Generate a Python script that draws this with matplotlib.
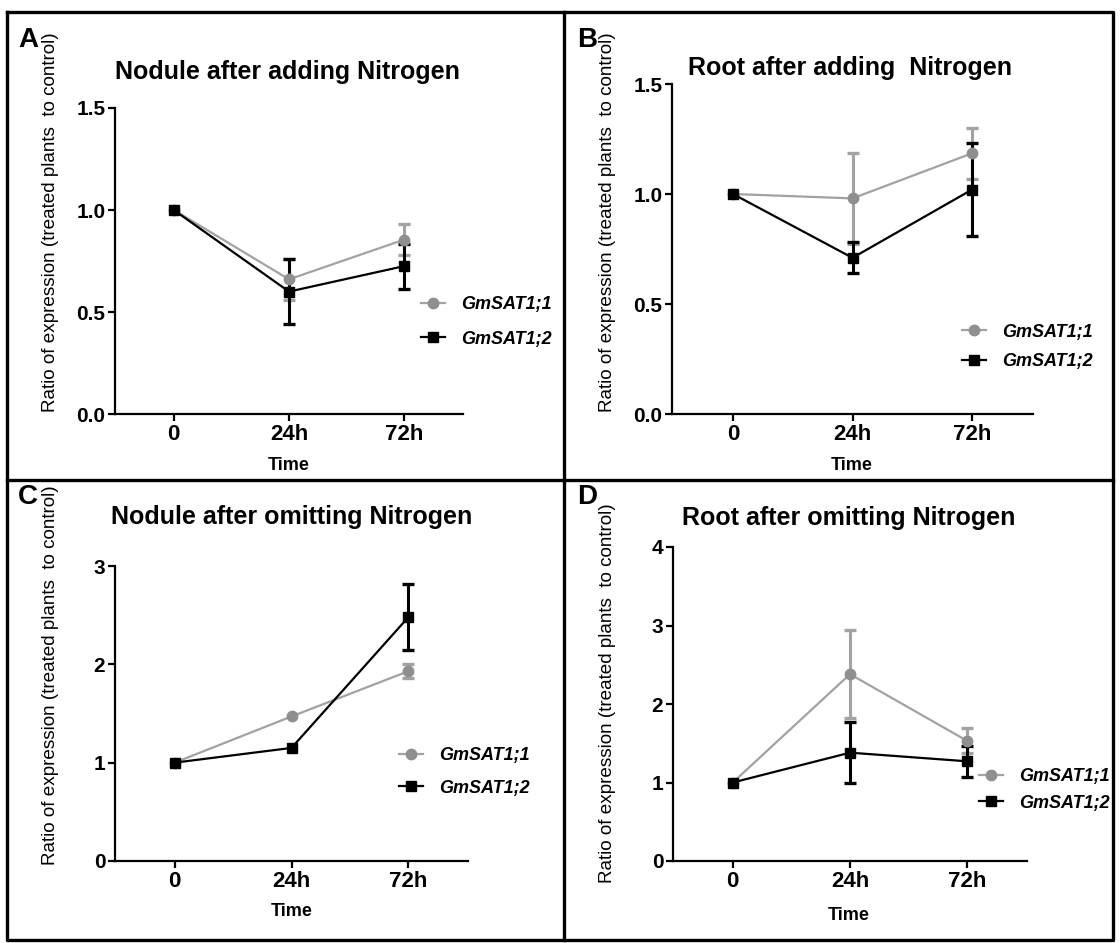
import numpy as np
import matplotlib

matplotlib.use("Agg")
import matplotlib.pyplot as plt
from matplotlib import font_manager
from matplotlib.lines import Line2D

W, H = 1120, 943

# ---- data ----
time_labels = ["0", "24h", "72h"]
series_names = ["GmSAT1;1", "GmSAT1;2"]

a_sat11 = [1.0, 0.66, 0.855]
a_sat11_err = [0.0, 0.10, 0.075]
a_sat12 = [1.0, 0.60, 0.725]
a_sat12_err = [0.0, 0.16, 0.11]

b_sat11 = [1.0, 0.98, 1.185]
b_sat11_err = [0.0, 0.205, 0.115]
b_sat12 = [1.0, 0.71, 1.02]
b_sat12_err = [0.0, 0.07, 0.21]

c_sat11 = [1.0, 1.47, 1.93]
c_sat11_err = [0.0, 0.0, 0.07]
c_sat12 = [1.0, 1.15, 2.48]
c_sat12_err = [0.0, 0.0, 0.335]

d_sat11 = [1.0, 2.38, 1.53]
d_sat11_err = [0.0, 0.56, 0.16]
d_sat12 = [1.0, 1.38, 1.27]
d_sat12_err = [0.0, 0.39, 0.20]

GREY_LINE = "#a2a2a2"
GREY_MARK = "#8f8f8f"
BLACK = "#000000"

names = {f.name for f in font_manager.fontManager.ttflist}
NARROW = "Liberation Sans Narrow" if "Liberation Sans Narrow" in names else "Liberation Sans"
SANS = "Liberation Sans"
plt.rcParams["font.family"] = [SANS, "DejaVu Sans"]

PANELS = [
    dict(letter="A", title="Nodule after adding Nitrogen",
         data=(a_sat11, a_sat11_err, a_sat12, a_sat12_err),
         ylim=1.5, yticks=[0.0, 0.5, 1.0, 1.5], yfmt="{:.1f}",
         rect=(115, 108, 463, 414), yfont=SANS,
         title_xy=(287, 72), letter_xy=(18, 40), ylabel_xy=(51, 222), xlabel_xy=(289, 466),
         legend=(421, 322, 0.95)),
    dict(letter="B", title="Root after adding  Nitrogen",
         data=(b_sat11, b_sat11_err, b_sat12, b_sat12_err),
         ylim=1.5, yticks=[0.0, 0.5, 1.0, 1.5], yfmt="{:.1f}",
         rect=(672, 84, 1033, 414), yfont=SANS,
         title_xy=(850, 68), letter_xy=(577, 40), ylabel_xy=(608, 222), xlabel_xy=(852, 466),
         legend=(962, 347, 0.7)),
    dict(letter="C", title="Nodule after omitting Nitrogen",
         data=(c_sat11, c_sat11_err, c_sat12, c_sat12_err),
         ylim=3, yticks=[0, 1, 2, 3], yfmt="{:d}",
         rect=(115, 566, 468, 861), yfont=NARROW,
         title_xy=(292, 517), letter_xy=(18, 497), ylabel_xy=(51, 675), xlabel_xy=(292, 912),
         legend=(399, 772, 0.85)),
    dict(letter="D", title="Root after omitting Nitrogen",
         data=(d_sat11, d_sat11_err, d_sat12, d_sat12_err),
         ylim=4, yticks=[0, 1, 2, 3, 4], yfmt="{:d}",
         rect=(673, 547, 1027, 861), yfont=SANS,
         title_xy=(849, 518), letter_xy=(577, 497), ylabel_xy=(608, 693), xlabel_xy=(849, 915),
         legend=(979, 790, 0.5)),
]


def fx(px):
    return px / W


def fy(py):
    return 1 - py / H


def draw_series(ax, x, y, err, line_color, mark_color, marker, z):
    y = np.asarray(y)
    err = np.asarray(err)
    ax.plot(x, y, color=line_color, lw=1.6, zorder=z, clip_on=False)
    m = err > 0
    ax.errorbar(x[m], y[m], yerr=err[m], fmt="none", ecolor=line_color,
                elinewidth=2.2, capsize=4.5, capthick=2.4, zorder=z, clip_on=False)
    ms = 7.5 if marker == "o" else 7
    ax.plot(x, y, ls="none", marker=marker, ms=ms, color=mark_color,
            zorder=z + 3 if marker == "o" else z + 2, clip_on=False)


fig = plt.figure(figsize=(W / 100, H / 100), dpi=100)

x = np.arange(len(time_labels))
for p in PANELS:
    l, t, r, b = p["rect"]
    ax = fig.add_axes([fx(l), fy(b), (r - l) / W, (b - t) / H])
    s11, e11, s12, e12 = p["data"]
    draw_series(ax, x, s11, e11, GREY_LINE, GREY_MARK, "o", 2)
    draw_series(ax, x, s12, e12, BLACK, BLACK, "s", 3)

    ax.set_xlim(-0.51, 2.51)
    ax.set_ylim(0, p["ylim"])
    ax.set_xticks(x)
    ax.set_xticklabels(time_labels, fontfamily=NARROW, fontweight="bold", fontsize=16)
    ax.set_yticks(p["yticks"])
    ax.set_yticklabels([p["yfmt"].format(v) for v in p["yticks"]],
                       fontfamily=p["yfont"], fontweight="bold", fontsize=15)
    for side in ("top", "right"):
        ax.spines[side].set_visible(False)
    for side in ("left", "bottom"):
        ax.spines[side].set_linewidth(1.6)
    ax.tick_params(length=5, width=1.6, pad=2)
    ax.patch.set_alpha(0)

    # legend
    lx, ly, sp = p["legend"]
    handles = [
        Line2D([], [], color=GREY_LINE, marker="o", ms=7.5, lw=1.6,
               markerfacecolor=GREY_MARK, markeredgecolor=GREY_MARK),
        Line2D([], [], color=BLACK, marker="s", ms=7, lw=1.6),
    ]
    fig.legend(handles, series_names, loc="center left",
               bbox_to_anchor=(fx(lx), fy(ly)), bbox_transform=fig.transFigure,
               frameon=False, borderpad=0, borderaxespad=0, handlelength=1.35,
               handletextpad=0.9, labelspacing=sp,
               prop=dict(family=SANS, style="italic", weight="bold", size=13))

    fig.text(fx(p["title_xy"][0]), fy(p["title_xy"][1]), p["title"],
             ha="center", va="center", fontfamily=NARROW, fontweight="bold", fontsize=18)
    fig.text(fx(p["letter_xy"][0]), fy(p["letter_xy"][1]), p["letter"],
             ha="left", va="center", fontweight="bold", fontsize=20)
    fig.text(fx(p["ylabel_xy"][0]), fy(p["ylabel_xy"][1]),
             "Ratio of expression (treated plants  to control)",
             ha="center", va="center", rotation=90, fontsize=13.6)
    fig.text(fx(p["xlabel_xy"][0]), fy(p["xlabel_xy"][1]), "Time",
             ha="center", va="center", fontfamily=NARROW, fontweight="bold", fontsize=13)

# panel frame lines
frame_kw = dict(color="black", lw=2.4, transform=fig.transFigure)
fig.lines.extend([
    Line2D([fx(7), fx(1113), fx(1113), fx(7), fx(7)],
           [fy(12), fy(12), fy(940), fy(940), fy(12)], **frame_kw),
    Line2D([fx(564), fx(564)], [fy(12), fy(940)], **frame_kw),
    Line2D([fx(7), fx(1113)], [fy(480), fy(480)], **frame_kw),
])

fig.savefig("out.png", dpi=100)
